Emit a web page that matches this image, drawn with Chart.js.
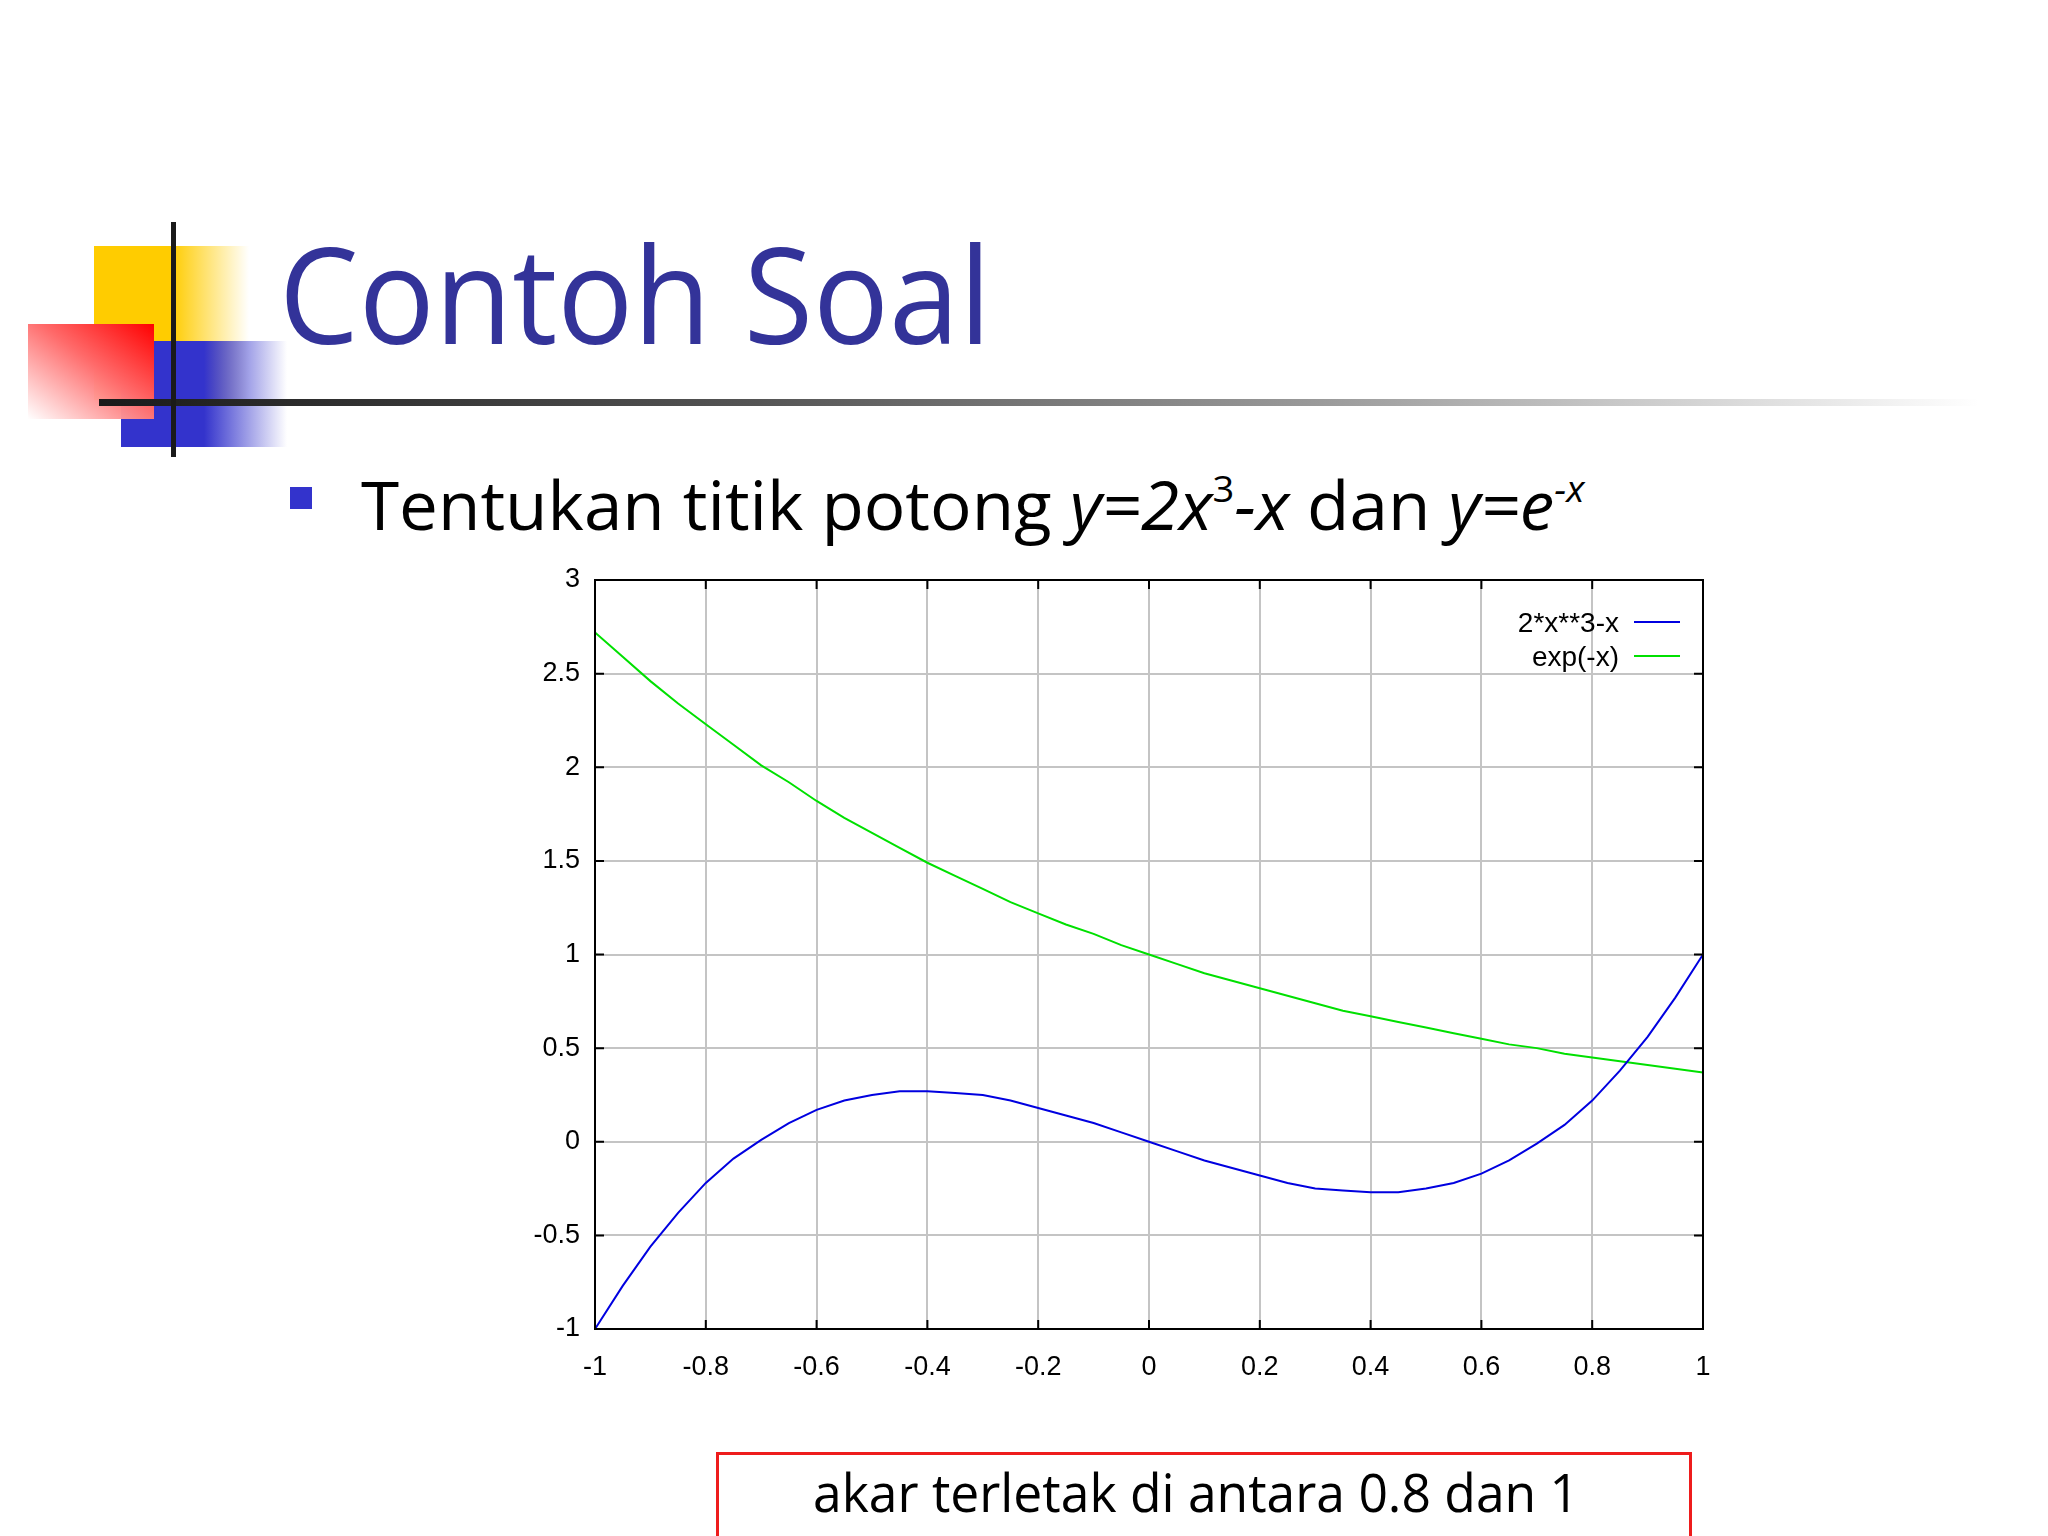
<!DOCTYPE html>
<html>
<head>
<meta charset="utf-8">
<script src="https://cdn.jsdelivr.net/npm/chart.js@4"></script>
<style>
  html, body { margin: 0; padding: 0; background: #fff; }
  body { width: 2048px; height: 1536px; position: relative; overflow: hidden; font-family: "Open Sans", "Noto Sans", sans-serif; }
  .abs { position: absolute; }
  #yellow { left: 94px; top: 246px; width: 155px; height: 154px;
    background: linear-gradient(to right, #ffcc00 0%, #ffcc00 50%, rgba(255,204,0,0) 100%); }
  #blue { left: 121px; top: 341px; width: 166px; height: 106px;
    background: linear-gradient(to right, #3333cc 0%, #3333cc 50%, rgba(51,51,204,0) 100%); }
  #red { left: 28px; top: 324px; width: 126px; height: 95px;
    background: linear-gradient(to bottom left, #ff0000 0%, #ff6a6a 45%, rgba(255,255,255,0.9) 100%); }
  #hline { left: 99px; top: 399px; width: 1880px; height: 7px;
    background: linear-gradient(to right, #1a1a1a 0%, #555 35%, #9a9a9a 65%, rgba(200,200,200,0) 100%); }
  #vline { left: 171px; top: 222px; width: 5px; height: 235px; background: #1a1a1a; }
  .txt { white-space: nowrap; line-height: 1; transform-origin: 0 0; }
  #title { left: 279px; top: 226px; font-size: 133px; color: #333399; }
  #bullet { left: 290px; top: 487px; width: 22px; height: 22px; background: #3333cc; }
  #task { left: 361px; top: 471px; font-size: 67px; color: #000; }
  #task sup { font-size: 55%; vertical-align: 0; position: relative; top: -0.75em; }
  #box { left: 716px; top: 1452px; width: 970px; height: 120px; border: 3px solid #ee1c1c; }
  #answer { left: 813px; top: 1465px; font-size: 53px; color: #000; }
  #wrap { left: 480px; top: 540px; width: 1260px; height: 880px; }
</style>
</head>
<body>
<div class="abs" id="yellow"></div>
<div class="abs" id="blue"></div>
<div class="abs" id="red"></div>
<div class="abs" id="hline"></div>
<div class="abs" id="vline"></div>
<div class="abs txt" id="title" data-w="712">Contoh Soal</div>
<div class="abs" id="bullet"></div>
<div class="abs txt" id="task" data-w="1223">Tentukan titik potong <i>y=2x</i><sup>3</sup><i>-x</i> dan <i>y=e</i><sup><i>-x</i></sup></div>
<div class="abs" id="box"></div>
<div class="abs txt" id="answer" data-w="766">akar terletak di antara 0.8 dan 1</div>
<div class="abs" id="wrap"><canvas id="plot"></canvas></div>

<script>
// values
const xValues = [-1, -0.95, -0.9, -0.85, -0.8, -0.75, -0.7, -0.65, -0.6, -0.55, -0.5,
  -0.45, -0.4, -0.35, -0.3, -0.25, -0.2, -0.15, -0.1, -0.05, 0,
  0.05, 0.1, 0.15, 0.2, 0.25, 0.3, 0.35, 0.4, 0.45, 0.5,
  0.55, 0.6, 0.65, 0.7, 0.75, 0.8, 0.85, 0.9, 0.95, 1];
const cubicValues = [-1, -0.77, -0.56, -0.38, -0.22, -0.09, 0.01, 0.1, 0.17, 0.22, 0.25,
  0.27, 0.27, 0.26, 0.25, 0.22, 0.18, 0.14, 0.1, 0.05, 0,
  -0.05, -0.1, -0.14, -0.18, -0.22, -0.25, -0.26, -0.27, -0.27, -0.25,
  -0.22, -0.17, -0.1, -0.01, 0.09, 0.22, 0.38, 0.56, 0.77, 1];
const expValues = [2.72, 2.59, 2.46, 2.34, 2.23, 2.12, 2.01, 1.92, 1.82, 1.73, 1.65,
  1.57, 1.49, 1.42, 1.35, 1.28, 1.22, 1.16, 1.11, 1.05, 1,
  0.95, 0.9, 0.86, 0.82, 0.78, 0.74, 0.7, 0.67, 0.64, 0.61,
  0.58, 0.55, 0.52, 0.5, 0.47, 0.45, 0.43, 0.41, 0.39, 0.37];
const seriesNames = ['2*x**3-x', 'exp(-x)'];
const xTickLabels = ['-1', '-0.8', '-0.6', '-0.4', '-0.2', '0', '0.2', '0.4', '0.6', '0.8', '1'];
const yTickLabels = ['-1', '-0.5', '0', '0.5', '1', '1.5', '2', '2.5', '3'];

// squeeze slide texts to the width they have in the picture
document.querySelectorAll('.txt').forEach(el => {
  const target = +el.getAttribute('data-w');
  el.style.transform = 'scaleX(' + (target / el.offsetWidth) + ')';
});

// gnuplot style frame, inward ticks and legend
const gnuplotFrame = {
  id: 'gnuplotFrame',
  afterDatasetsDraw(chart) {
    const { ctx, chartArea: a, scales } = chart;
    const len = 9;
    ctx.save();
    ctx.strokeStyle = '#000';
    ctx.lineWidth = 2;
    ctx.beginPath();
    scales.x.ticks.forEach(t => {
      const px = scales.x.getPixelForValue(t.value);
      ctx.moveTo(px, a.bottom); ctx.lineTo(px, a.bottom - len);
      ctx.moveTo(px, a.top); ctx.lineTo(px, a.top + len);
    });
    scales.y.ticks.forEach(t => {
      const py = scales.y.getPixelForValue(t.value);
      ctx.moveTo(a.left, py); ctx.lineTo(a.left + len, py);
      ctx.moveTo(a.right, py); ctx.lineTo(a.right - len, py);
    });
    ctx.stroke();
    ctx.strokeRect(a.left, a.top, a.right - a.left, a.bottom - a.top);

    // legend
    ctx.font = '28px "Liberation Sans", Arial, sans-serif';
    ctx.textAlign = 'right';
    ctx.textBaseline = 'middle';
    chart.data.datasets.forEach((ds, i) => {
      const y = a.top + 42 + i * 34;
      ctx.fillStyle = '#000';
      ctx.fillText(ds.label, a.right - 84, y + 2);
      ctx.strokeStyle = ds.borderColor;
      ctx.lineWidth = 2;
      ctx.beginPath();
      ctx.moveTo(a.right - 69, y);
      ctx.lineTo(a.right - 23, y);
      ctx.stroke();
    });
    ctx.restore();
  }
};

const tickFont = { family: '"Liberation Sans", Arial, sans-serif', size: 27 };

new Chart(document.getElementById('plot'), {
  type: 'line',
  data: {
    datasets: [{
      label: seriesNames[0],
      data: xValues.map((x, i) => ({ x: x, y: cubicValues[i] })),
      borderColor: '#0000e0',
      borderWidth: 2,
      pointRadius: 0,
      tension: 0
    }, {
      label: seriesNames[1],
      data: xValues.map((x, i) => ({ x: x, y: expValues[i] })),
      borderColor: '#00e000',
      borderWidth: 2,
      pointRadius: 0,
      tension: 0
    }]
  },
  options: {
    responsive: true,
    maintainAspectRatio: false,
    animation: false,
    layout: { padding: { top: 40, right: 37, left: 0, bottom: 0 } },
    plugins: { legend: { display: false }, tooltip: { enabled: false } },
    scales: {
      x: {
        type: 'linear',
        min: -1,
        max: 1,
        afterFit: s => { s.height = 91; },
        grid: { color: '#c4c4c4', lineWidth: 2, drawTicks: false },
        border: { display: false },
        ticks: {
          stepSize: 0.2,
          padding: 22,
          color: '#000',
          font: tickFont,
          callback: (v, i) => xTickLabels[i]
        }
      },
      y: {
        type: 'linear',
        min: -1,
        max: 3,
        afterFit: s => { s.width = 115; },
        grid: { color: '#c4c4c4', lineWidth: 2, drawTicks: false },
        border: { display: false },
        ticks: {
          stepSize: 0.5,
          padding: 15,
          color: '#000',
          font: tickFont,
          callback: (v, i) => yTickLabels[i]
        }
      }
    }
  },
  plugins: [gnuplotFrame]
});
</script>
</body>
</html>
